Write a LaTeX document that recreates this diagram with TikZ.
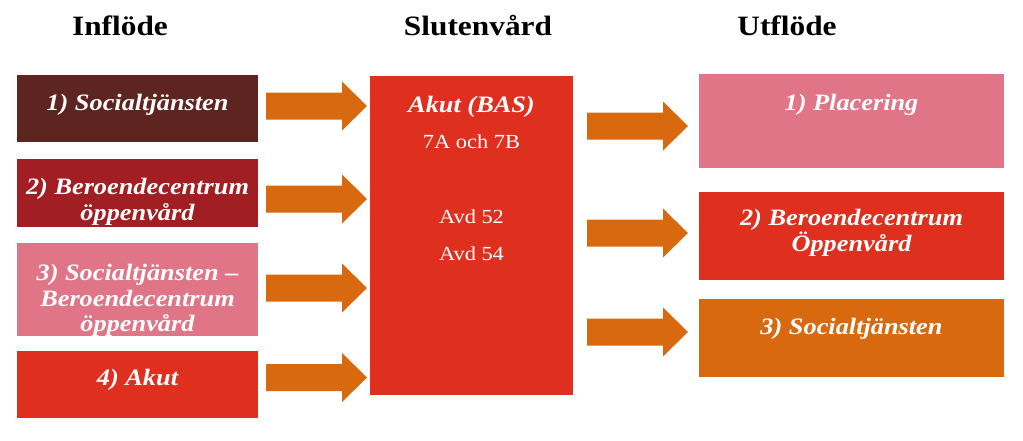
\documentclass[tikz,border=0pt]{standalone}
\usepackage{fontspec}
\setmainfont{Liberation Serif}[FakeStretch=1.12]
\definecolor{cbrown}{HTML}{5E2420}
\definecolor{cdark}{HTML}{A11E23}
\definecolor{cpink}{HTML}{E07588}
\definecolor{cred}{HTML}{DF2F1F}
\definecolor{corange}{HTML}{D9690E}
\newcommand\blockarrow[3]{% name, x0, yc
  \fill[corange] (#2,#3) ++(0,-13.5) coordinate (#1) -- ++(76,0) -- ++(0,-11) -- ++(25,24.5) -- ++(-25,24.5) -- ++(0,-11) -- ++(-76,0) -- cycle;}
\begin{document}
\begin{tikzpicture}[x=1pt,y=-1pt,
  boxl/.style={rectangle,draw=none,inner sep=0pt,minimum width=241pt,anchor=north west},
  boxr/.style={rectangle,draw=none,inner sep=0pt,minimum width=305pt,anchor=north west},
  txt/.style={text=white,align=center,inner sep=0pt,anchor=north,
    font=\bfseries\itshape\fontsize{23.5}{25.5}\selectfont,
    execute at begin node={\rule{0pt}{17pt}}},
  ctxt/.style={text=white,inner sep=0pt,anchor=base,font=\fontsize{20}{22}\selectfont},
  head/.style={inner sep=0pt,anchor=base,font=\bfseries\fontsize{28}{30}\selectfont}]
\useasboundingbox (0,0) rectangle (1023,440);
\fill[white] (0,0) rectangle (1023,440);
% headers
\node[head] (h1) at (120,35) {Inflöde};
\node[head] (h2) at (478,35) {Slutenvård};
\node[head] (h3) at (787,35) {Utflöde};
% left boxes
\node[boxl,fill=cbrown,minimum height=67pt] (l1) at (17,75) {};
\node[boxl,fill=cdark,minimum height=68pt] (l2) at (17,159) {};
\node[boxl,fill=cpink,minimum height=93pt] (l3) at (17,243) {};
\node[boxl,fill=cred,minimum height=67pt] (l4) at (17,351) {};
\node[txt] (t1) at (137.5,93) {1) Socialtjänsten};
\node[txt] (t2) at (137.5,178) {2) Beroendecentrum\\öppenvård};
\node[txt] (t3) at (137.5,264) {3) Socialtjänsten –\\Beroendecentrum\\öppenvård};
\node[txt] (t4) at (137.5,368) {4) Akut};
% central box
\node[rectangle,draw=none,inner sep=0pt,minimum width=203pt,minimum height=319pt,anchor=north west,fill=cred] (c) at (370,76) {};
\node[txt,anchor=base,execute at begin node={}] (c1) at (471.5,112) {Akut (BAS)};
\node[ctxt] (c2) at (471.5,148) {7A och 7B};
\node[ctxt] (c3) at (471.5,223) {Avd 52};
\node[ctxt] (c4) at (471.5,260) {Avd 54};
% right boxes
\node[boxr,fill=cpink,minimum height=94pt] (r1) at (699,74) {};
\node[boxr,fill=cred,minimum height=88pt] (r2) at (699,192) {};
\node[boxr,fill=corange,minimum height=78pt] (r3) at (699,299) {};
\node[txt] (u1) at (851.5,93) {1) Placering};
\node[txt] (u2) at (851.5,209) {2) Beroendecentrum\\Öppenvård};
\node[txt] (u3) at (851.5,317) {3) Socialtjänsten};
% arrows
\blockarrow{a1}{266}{106}
\blockarrow{a2}{266}{199}
\blockarrow{a3}{266}{288}
\blockarrow{a4}{266}{377.5}
\blockarrow{b1}{587}{126}
\blockarrow{b2}{587}{233}
\blockarrow{b3}{587}{332}
\end{tikzpicture}
\end{document}
